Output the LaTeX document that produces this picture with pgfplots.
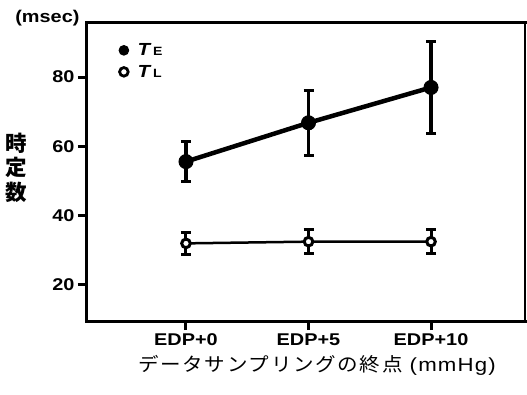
\documentclass[border=0pt]{standalone}
\usepackage{pgfplots}
\pgfplotsset{compat=1.18}
\usepackage{fontspec}
\setmainfont{Liberation Sans}[FakeStretch=1.17]
\newfontfamily\jp{Noto Sans CJK JP}[FakeStretch=1.08, LetterSpace=9]
\newfontfamily\jpb{Noto Sans CJK JP}[FakeStretch=1.0]
\begin{document}
\begin{tikzpicture}
\begin{axis}[
  name=ax,
  scale only axis,
  width=438bp, height=298bp,
  xmin=-0.808, xmax=2.767,
  ymin=9.6, ymax=95.6,
  xtick={0,1,2}, xticklabels={EDP+0,EDP+5,EDP+10},
  ytick={20,40,60,80},
  xtick pos=left, ytick pos=left,
  tick align=outside,
  major tick length=9bp,
  tick style={line width=3bp, black},
  axis line style={draw=none},
  /pgf/number format/assume math mode=true,
  ticklabel style={font=\bfseries\fontsize{17bp}{19bp}\selectfont},
  clip=false,
  xlabel={{\jp データサンプリングの終点}\hspace{7bp}{\addfontfeatures{LetterSpace=6}(mmHg)}},
  xlabel style={font=\fontsize{19bp}{21bp}\selectfont, at={(rel axis cs:0.5,0)}, anchor=center, yshift=-44bp, xshift=11bp},
  ylabel={\begin{tabular}{@{}c@{}}時\\定\\数\end{tabular}},
  ylabel style={font=\jpb\bfseries\fontsize{21.5bp}{21.5bp}\selectfont, at={(rel axis cs:-0.162,0.507)}, anchor=center, rotate=-90},
  legend style={draw=none, fill=none, at={(rel axis cs:0.066,0.945)}, anchor=north west,
    row sep=4bp, font=\bfseries\fontsize{17.5bp}{18bp}\selectfont, legend cell align=left},
]
\addlegendimage{only marks, mark=*, mark size=4.8bp, mark options={line width=1bp, fill=black, draw=black}}
\addlegendentry{\hspace{7bp}\textit{T}\hspace{1.5bp}{\fontsize{12bp}{12bp}\selectfont E}}
\addlegendimage{only marks, mark=*, mark size=4.3bp, mark options={line width=2.8bp, fill=white, draw=black}}
\addlegendentry{\hspace{7bp}\textit{T}\hspace{1.5bp}{\fontsize{12bp}{12bp}\selectfont L}}

\addplot[forget plot, black, line width=4.5bp, mark=*, mark size=7bp,
  mark options={line width=1bp, fill=black, solid},
  error bars/.cd, y dir=both, y explicit,
  error bar style={line width=3.5bp},
  error mark options={rotate=90, mark size=5bp, line width=3bp}]
  coordinates {(0,55.6) +- (0,5.8) (1,66.8) +- (0,9.4) (2,77.0) +- (0,13.2)};

\addplot[forget plot, black, line width=2.5bp, mark=*, mark size=4.3bp,
  mark options={line width=3bp, fill=white, solid},
  error bars/.cd, y dir=both, y explicit,
  error bar style={line width=3bp},
  error mark options={rotate=90, mark size=5bp, line width=3bp}]
  coordinates {(0,32.0) +- (0,3.2) (1,32.5) +- (0,3.5) (2,32.5) +- (0,3.5)};

\draw[line width=3bp, line cap=rect] (rel axis cs:1,1) -- (rel axis cs:0,1) -- (rel axis cs:0,0) -- (rel axis cs:1,0);
\draw[line width=1.2bp] (rel axis cs:1,0) -- (rel axis cs:1,1);
\node[anchor=base east, font=\bfseries\fontsize{17bp}{19bp}\selectfont] at (rel axis cs:0,1) [xshift=-4bp, yshift=0bp] {(msec)};
\end{axis}
\path ([xshift=-87bp,yshift=-74bp]ax.south west) rectangle ([xshift=2bp,yshift=23bp]ax.north east);
\end{tikzpicture}
\end{document}
